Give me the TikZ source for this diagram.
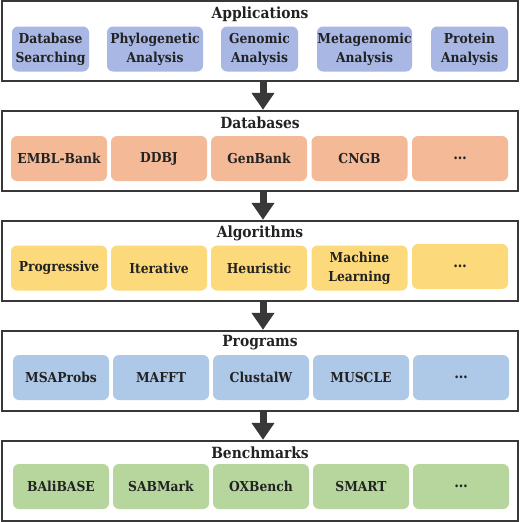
\documentclass[tikz,border=0pt]{standalone}
\usepackage{fontspec}
\newfontfamily\labelfont{DejaVu Serif Condensed}[UprightFont={* Bold}]
\usetikzlibrary{arrows.meta}
\definecolor{framec}{HTML}{383838}
\definecolor{textc}{HTML}{222222}
\definecolor{appc}{HTML}{A8B7E3}
\definecolor{dbc}{HTML}{F4B996}
\definecolor{algc}{HTML}{FCD97A}
\definecolor{prgc}{HTML}{AEC9E8}
\definecolor{bmc}{HTML}{B7D69E}
\newcommand{\moredots}{{\fontsize{15}{19}\selectfont…}}
\tikzset{
  layerframe/.style={draw=framec, line width=2.4pt, fill=white, minimum width=516pt, minimum height=80pt, inner sep=0pt},
  layertitle/.style={font=\labelfont\fontsize{15.4}{18}\selectfont, text=textc, inner sep=0pt},
  itembox/.style={rounded corners=6pt, minimum height=45pt, inner sep=0pt, align=center,
    font=\labelfont\fontsize{13.7}{19}\selectfont, text=textc},
  bigarrow/.style={draw=framec, line width=7pt, -{Triangle[width=22pt,length=17pt]}, color=framec},
}
\begin{document}
\begin{tikzpicture}[x=1pt,y=-1pt]
\useasboundingbox (0,0) rectangle (520,522);
% frames
\node[layerframe] (app) at (260,41) {};
\node[layerframe] (db)  at (260,151) {};
\node[layerframe] (alg) at (260,261) {};
\node[layerframe] (prg) at (260,371) {};
\node[layerframe] (bm)  at (260,481) {};
% titles
\node[layertitle] (tapp) at (260,14) {Applications};
\node[layertitle] (tdb)  at (260,123) {Databases};
\node[layertitle] (talg) at (260,233) {Algorithms};
\node[layertitle] (tprg) at (260,343) {Programs};
\node[layertitle] (tbm)  at (260,453) {Benchmarks};
% applications
\node[itembox, fill=appc, minimum width=77pt] (a1) at (50.5,49) {Database\\Searching};
\node[itembox, fill=appc, minimum width=96pt] (a2) at (155,49) {Phylogenetic\\Analysis};
\node[itembox, fill=appc, minimum width=77pt] (a3) at (259.5,49) {Genomic\\Analysis};
\node[itembox, fill=appc, minimum width=95pt] (a4) at (364.5,49) {Metagenomic\\Analysis};
\node[itembox, fill=appc, minimum width=77pt] (a5) at (469.5,49) {Protein\\Analysis};
% databases
\node[itembox, fill=dbc, minimum width=96pt] (d1) at (59,158.5) {EMBL-Bank};
\node[itembox, fill=dbc, minimum width=96pt] (d2) at (159,158.5) {DDBJ};
\node[itembox, fill=dbc, minimum width=96pt] (d3) at (259,158.5) {GenBank};
\node[itembox, fill=dbc, minimum width=96pt] (d4) at (359.5,158.5) {CNGB};
\node[itembox, fill=dbc, minimum width=96pt] (d5) at (460,158.5) {\moredots};
% algorithms
\node[itembox, fill=algc, minimum width=96pt] (g1) at (59,268) {Progressive};
\node[itembox, fill=algc, minimum width=96pt] (g2) at (159,268) {Iterative};
\node[itembox, fill=algc, minimum width=96pt] (g3) at (259,268) {Heuristic};
\node[itembox, fill=algc, minimum width=96pt] (g4) at (359.5,268) {Machine\\Learning};
\node[itembox, fill=algc, minimum width=96pt] (g5) at (460,266.5) {\moredots};
% programs
\node[itembox, fill=prgc, minimum width=96pt] (p1) at (61,377.5) {MSAProbs};
\node[itembox, fill=prgc, minimum width=96pt] (p2) at (161,377.5) {MAFFT};
\node[itembox, fill=prgc, minimum width=96pt] (p3) at (261,377.5) {ClustalW};
\node[itembox, fill=prgc, minimum width=96pt] (p4) at (361,377.5) {MUSCLE};
\node[itembox, fill=prgc, minimum width=96pt] (p5) at (461,377.5) {\moredots};
% benchmarks
\node[itembox, fill=bmc, minimum width=96pt] (b1) at (61,486.5) {BAliBASE};
\node[itembox, fill=bmc, minimum width=96pt] (b2) at (161,486.5) {SABMark};
\node[itembox, fill=bmc, minimum width=96pt] (b3) at (261,486.5) {OXBench};
\node[itembox, fill=bmc, minimum width=96pt] (b4) at (361,486.5) {SMART};
\node[itembox, fill=bmc, minimum width=96pt] (b5) at (461,486.5) {\moredots};
% arrows
\coordinate (ax) at (263,0);
\draw[bigarrow] (app.south -| ax) -- (db.north -| ax);
\draw[bigarrow] (db.south -| ax) -- (alg.north -| ax);
\draw[bigarrow] (alg.south -| ax) -- (prg.north -| ax);
\draw[bigarrow] (prg.south -| ax) -- (bm.north -| ax);
\end{tikzpicture}
\end{document}
